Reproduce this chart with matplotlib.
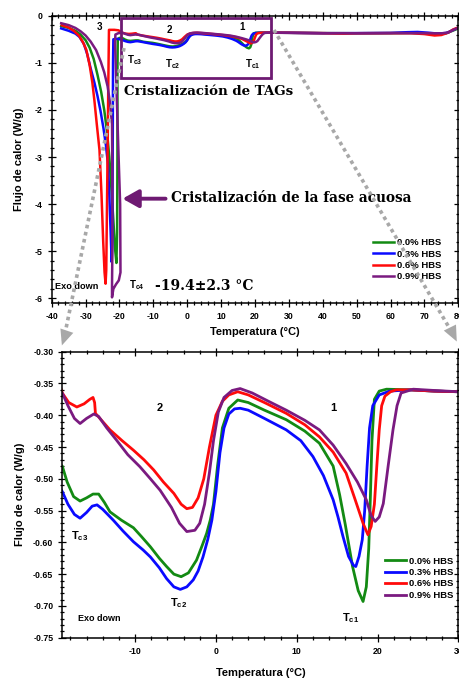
import matplotlib.pyplot as plt
from matplotlib.patches import Rectangle, FancyArrowPatch
from matplotlib.lines import Line2D
from matplotlib.ticker import MultipleLocator, FormatStrFormatter

plt.rcParams['font.family'] = ['Liberation Sans', 'DejaVu Sans']
plt.rcParams['font.weight'] = 'bold'
plt.rcParams['axes.labelweight'] = 'bold'
plt.rcParams['axes.unicode_minus'] = False
plt.rcParams['mathtext.default'] = 'regular'

labels = ['0.0% HBS', '0.3% HBS', '0.6% HBS', '0.9% HBS']
colors = ['#138a13', '#0a0aff', '#ff0a0a', '#7a1a80']

# (temperature °C, heat flow W/g)
hbs_00 = [(-37.2, -0.22), (-35.0, -0.26), (-33.0, -0.32), (-31.5, -0.40), (-30.0, -0.52), (-28.8, -0.68),
          (-27.6, -0.92), (-26.5, -1.25), (-25.4, -1.62), (-24.5, -2.00), (-23.7, -2.45), (-23.0, -3.00),
          (-22.4, -3.65), (-21.8, -4.35), (-21.3, -4.95), (-20.9, -5.25), (-20.7, -4.60), (-20.6, -3.00),
          (-20.6, -1.20), (-20.5, -0.50), (-20.0, -0.47), (-19.0, -0.480),
          (-18.4, -0.505), (-17.6, -0.528), (-16.8, -0.535), (-16.0, -0.530), (-15.2, -0.524), (-14.5, -0.524),
          (-13.8, -0.537), (-13.1, -0.552), (-11.7, -0.565), (-10.2, -0.577), (-9.2, -0.591), (-8.1, -0.607),
          (-7.0, -0.625), (-6.1, -0.638), (-5.2, -0.650), (-4.3, -0.654), (-3.4, -0.648), (-2.4, -0.628),
          (-1.7, -0.605), (-1.15, -0.586), (-0.7, -0.565), (-0.3, -0.540), (0.2, -0.480), (0.8, -0.420),
          (1.6, -0.389), (2.7, -0.376), (4.0, -0.380), (6.0, -0.392), (8.7, -0.407), (11.0, -0.425),
          (12.8, -0.444), (14.5, -0.480), (15.3, -0.525), (16.0, -0.572), (16.9, -0.638), (17.6, -0.676),
          (18.2, -0.693), (18.6, -0.670), (18.9, -0.610), (19.1, -0.530), (19.3, -0.440), (19.6, -0.375),
          (20.2, -0.362), (21.1, -0.359), (24.0, -0.360), (27.0, -0.362), (30.0, -0.363),
          (40.0, -0.370), (50.0, -0.372), (60.0, -0.370), (66.0, -0.365), (70.0, -0.372), (74.0, -0.385),
          (76.5, -0.370), (78.3, -0.32), (80.0, -0.27)]

hbs_03 = [(-37.2, -0.27), (-35.0, -0.32), (-33.0, -0.38), (-31.8, -0.45), (-30.5, -0.60), (-29.5, -0.82),
          (-28.5, -1.12), (-27.4, -1.42), (-26.5, -1.70), (-25.6, -2.02), (-24.7, -2.40), (-24.0, -2.75),
          (-23.4, -3.15), (-23.0, -3.80), (-22.6, -4.60), (-22.3, -5.23), (-22.1, -4.80), (-22.0, -3.00),
          (-21.9, -1.00), (-21.8, -0.50), (-20.5, -0.49), (-19.0, -0.520),
          (-18.3, -0.540), (-17.5, -0.556), (-16.8, -0.562), (-16.0, -0.553), (-15.3, -0.543), (-14.7, -0.541),
          (-14.0, -0.548), (-12.7, -0.565), (-11.5, -0.582), (-10.2, -0.599), (-9.0, -0.612), (-8.1, -0.623),
          (-7.0, -0.640), (-6.1, -0.657), (-5.2, -0.670), (-4.4, -0.674), (-3.6, -0.670), (-2.8, -0.659),
          (-2.2, -0.645), (-1.6, -0.623), (-1.0, -0.595), (-0.5, -0.565), (0.0, -0.520), (0.5, -0.459),
          (1.0, -0.420), (1.6, -0.398), (2.3, -0.390), (3.0, -0.389), (4.0, -0.392), (6.0, -0.405),
          (8.7, -0.423), (10.5, -0.440), (12.0, -0.465), (13.3, -0.495), (14.5, -0.533), (15.1, -0.560),
          (15.7, -0.590), (16.4, -0.622), (17.0, -0.636), (17.3, -0.638), (17.7, -0.622), (18.1, -0.596),
          (18.4, -0.550), (18.7, -0.480), (19.0, -0.420), (19.4, -0.385), (20.2, -0.368), (21.5, -0.362),
          (24.0, -0.360), (27.0, -0.362), (30.0, -0.363),
          (40.0, -0.372), (50.0, -0.370), (60.0, -0.365), (65.0, -0.350), (68.0, -0.345), (71.0, -0.360),
          (74.0, -0.380), (76.5, -0.365), (78.3, -0.31), (80.0, -0.25)]

hbs_06 = [(-37.0, -0.20), (-35.0, -0.25), (-33.5, -0.32), (-32.0, -0.42), (-30.8, -0.56), (-29.8, -0.72),
          (-28.8, -1.05), (-28.0, -1.42), (-27.4, -1.80), (-26.7, -2.30), (-25.9, -2.85), (-25.3, -3.80),
          (-24.8, -4.80), (-24.4, -5.45), (-24.1, -5.69), (-23.9, -5.40), (-23.6, -3.50), (-23.3, -1.50),
          (-23.1, -0.30), (-21.5, -0.30), (-20.3, -0.31), (-19.6, -0.34), (-19.0, -0.365),
          (-18.2, -0.380), (-17.2, -0.387), (-16.3, -0.382), (-15.6, -0.375), (-15.2, -0.372), (-15.0, -0.380),
          (-14.9, -0.397), (-14.0, -0.410), (-13.1, -0.423), (-11.6, -0.440), (-10.2, -0.455), (-8.9, -0.470),
          (-7.7, -0.486), (-6.5, -0.505), (-5.2, -0.523), (-4.3, -0.540), (-3.6, -0.547), (-2.9, -0.545),
          (-2.2, -0.530), (-1.5, -0.500), (-0.8, -0.450), (0.0, -0.400), (0.8, -0.378), (1.6, -0.368),
          (2.7, -0.363), (4.0, -0.368), (6.0, -0.380), (8.7, -0.397), (11.0, -0.415), (12.8, -0.434),
          (14.5, -0.458), (16.1, -0.491), (17.2, -0.532), (18.2, -0.570), (18.8, -0.588), (19.2, -0.575),
          (19.6, -0.540), (19.9, -0.480), (20.2, -0.423), (20.5, -0.385), (20.9, -0.370), (21.6, -0.363),
          (22.3, -0.360), (24.0, -0.360), (27.0, -0.362), (30.0, -0.363),
          (40.0, -0.370), (46.0, -0.380), (50.0, -0.372), (60.0, -0.370), (66.0, -0.372), (70.0, -0.390),
          (73.0, -0.420), (75.0, -0.410), (77.0, -0.360), (78.5, -0.29), (80.0, -0.25)]

hbs_09 = [(-37.2, -0.16), (-35.0, -0.20), (-33.0, -0.26), (-31.5, -0.33), (-30.0, -0.42), (-28.5, -0.55),
          (-26.9, -0.73), (-25.5, -0.98), (-24.5, -1.20), (-23.5, -1.50), (-22.8, -1.85), (-22.2, -2.30),
          (-22.1, -3.50), (-22.1, -5.00), (-22.2, -5.75), (-22.2, -5.98), (-21.8, -5.80), (-21.0, -5.70),
          (-20.2, -5.62), (-19.7, -5.45), (-19.8, -4.00), (-20.3, -2.90), (-20.9, -1.50), (-21.3, -0.60),
          (-21.2, -0.40), (-20.3, -0.37), (-19.0, -0.365),
          (-18.3, -0.385), (-17.5, -0.405), (-16.8, -0.413), (-16.0, -0.405), (-15.1, -0.398), (-14.5, -0.402),
          (-13.5, -0.420), (-12.3, -0.439), (-10.9, -0.462), (-9.4, -0.481), (-8.1, -0.500), (-6.9, -0.518),
          (-5.5, -0.545), (-4.5, -0.570), (-3.6, -0.583), (-2.6, -0.581), (-2.0, -0.570), (-1.4, -0.540),
          (-0.8, -0.490), (-0.3, -0.440), (0.3, -0.395), (1.0, -0.372), (2.0, -0.361), (3.0, -0.358),
          (4.5, -0.365), (6.5, -0.378), (8.7, -0.392), (11.0, -0.408), (12.8, -0.423), (14.5, -0.447),
          (16.1, -0.476), (17.5, -0.505), (18.6, -0.533), (19.2, -0.558), (19.7, -0.567), (20.2, -0.560),
          (20.7, -0.539), (21.3, -0.480), (21.9, -0.423), (22.4, -0.385), (22.9, -0.365), (24.4, -0.359),
          (27.0, -0.361), (30.0, -0.363),
          (40.0, -0.370), (50.0, -0.372), (60.0, -0.370), (70.0, -0.370), (75.0, -0.375), (77.0, -0.360),
          (78.5, -0.30), (80.0, -0.26)]

curves = [hbs_00, hbs_03, hbs_06, hbs_09]
purple = '#6e1a72'
gray = '#a8a8a8'

fig = plt.figure(figsize=(4.6, 6.8), dpi=100)
ax1 = fig.add_axes([0.1124, 0.5544, 0.8839, 0.4225])
ax2 = fig.add_axes([0.1354, 0.0622, 0.8613, 0.4206])

for ax, lw in [(ax1, 1.8), (ax2, 2.0)]:
    for pts, c, lab in zip(curves, colors, labels):
        t, hf = zip(*pts)
        ax.plot(t, hf, color=c, lw=lw, label=lab, solid_joinstyle='round')
    ax.tick_params(which='both', direction='inout', top=True, right=True, labelsize=6.3, width=0.9)
    ax.tick_params(which='major', length=6)
    ax.tick_params(which='minor', length=3.5)
    for s in ax.spines.values():
        s.set_linewidth(1.1)
    ax.set_xlabel('Temperatura (°C)', fontsize=8)
    ax.set_ylabel('Flujo de calor (W/g)', fontsize=8)
    ax.legend(loc='upper left', frameon=False, fontsize=6.8, handlelength=2.2, handletextpad=0.35,
              labelspacing=0.25, borderpad=0, borderaxespad=0,
              bbox_to_anchor=(0.79, 0.225) if ax is ax1 else (0.814, 0.283))

# top panel
ax1.set_xlim(-40, 80)
ax1.set_ylim(-6.1, 0)
ax1.xaxis.set_major_locator(MultipleLocator(10))
ax1.xaxis.set_minor_locator(MultipleLocator(2))
ax1.yaxis.set_major_locator(MultipleLocator(1))
ax1.yaxis.set_minor_locator(MultipleLocator(0.2))
ax1.xaxis.set_label_coords(0.5, -0.085)
ax1.yaxis.set_label_coords(-0.068, 0.5)

ax1.add_patch(Rectangle((-19.5, -1.33), 44.1, 1.275, fill=False, ec=purple, lw=2, zorder=5))
for x, y, s in [(-26, -0.24, '3'), (-5.4, -0.30, '2'), (16.3, -0.24, '1')]:
    ax1.text(x, y, s, ha='center', va='center', fontsize=7)
for x, y, s in [(-17.7, -0.95, 'T$_{c3}$'), (-6.5, -1.02, 'T$_{c2}$'), (17.0, -1.02, 'T$_{c1}$')]:
    ax1.text(x, y, s, ha='left', va='center', fontsize=7)
ax1.text(6.3, -1.6, 'Cristalización de TAGs', family='DejaVu Serif', fontsize=9.6,
         ha='center', va='center')
ax1.annotate('', xy=(-19.1, -3.885), xytext=(-6.4, -3.885),
             arrowprops=dict(arrowstyle='-|>,head_length=0.8,head_width=0.45', color=purple, lw=2.8,
                             mutation_scale=12, shrinkA=0, shrinkB=0))
ax1.text(-4.9, -3.87, 'Cristalización de la fase acuosa', family='DejaVu Serif', fontsize=9.8,
         ha='left', va='center')
ax1.text(-39.1, -5.75, 'Exo down', fontsize=6.6, ha='left', va='center')
ax1.text(-17.3, -5.72, 'T$_{c4}$', fontsize=7, ha='left', va='center')
ax1.text(-9.5, -5.74, '-19.4±2.3 °C', family='DejaVu Serif', fontsize=10, ha='left', va='center')

# bottom panel
ax2.set_xlim(-19, 30)
ax2.set_ylim(-0.75, -0.30)
ax2.xaxis.set_major_locator(MultipleLocator(10))
ax2.xaxis.set_minor_locator(MultipleLocator(2))
ax2.yaxis.set_major_locator(MultipleLocator(0.05))
ax2.yaxis.set_minor_locator(MultipleLocator(0.01))
ax2.yaxis.set_major_formatter(FormatStrFormatter('%.2f'))
ax2.xaxis.set_label_coords(0.5, -0.105)
ax2.yaxis.set_label_coords(-0.094, 0.5)
for x, y, s in [(-7.0, -0.389, '2'), (14.5, -0.389, '1')]:
    ax2.text(x, y, s, ha='center', va='center', fontsize=8)
for x, y, s in [(-16.8, -0.590, 'T$_{c3}$'), (-4.6, -0.696, 'T$_{c2}$'), (16.7, -0.719, 'T$_{c1}$')]:
    ax2.text(x, y, s, ha='center', va='center', fontsize=8)
ax2.text(-17.0, -0.719, 'Exo down', fontsize=6.5, ha='left', va='center')

# dotted zoom guides (figure fractions)
for (x0, y0), (x1, y1), tip in [((0.2696, 0.9294), (0.1380, 0.4990), (0.1326, 0.4882)),
                                ((0.5957, 0.9559), (0.9870, 0.5060), (0.9957, 0.4941))]:
    fig.add_artist(Line2D([x0, x1], [y0, y1], transform=fig.transFigure, color=gray, lw=2.6,
                          ls=(0, (1, 1)), dash_capstyle='butt', zorder=10))
    fig.add_artist(FancyArrowPatch((x1 - (tip[0] - x1) * 2, y1 - (tip[1] - y1) * 2), tip,
                                   transform=fig.transFigure, arrowstyle='-|>,head_length=0.8,head_width=0.35',
                                   mutation_scale=14, color=gray, lw=0, zorder=10))

fig.savefig('out.png', dpi=100)
